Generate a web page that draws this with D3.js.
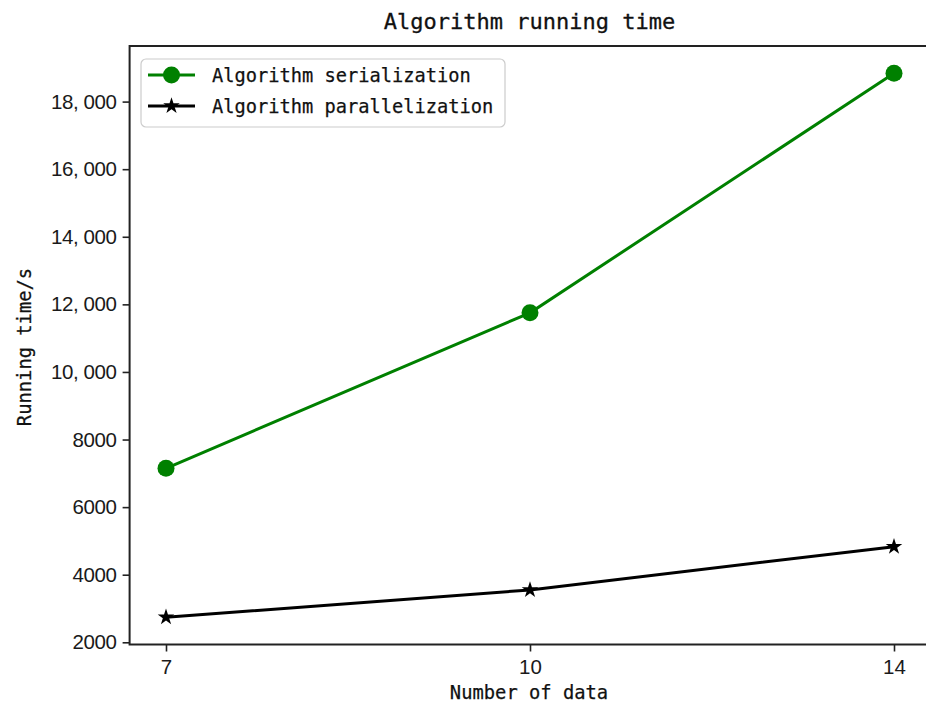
<!DOCTYPE html>
<html>
<head>
<meta charset="utf-8">
<script src="https://cdn.jsdelivr.net/npm/d3@7"></script>
<style>
  body { margin: 0; background: #fff; }
  svg { display: block; }
</style>
</head>
<body>
<svg id="chart" width="926" height="706"></svg>
<script>
const categories = ["7", "10", "14"];
const serialValues = [7150, 11750, 18840];
const parallelValues = [2740, 3550, 4830];
const yTicks = [2000, 4000, 6000, 8000, 10000, 12000, 14000, 16000, 18000];
const yTickLabels = ["2000", "4000", "6000", "8000", "10, 000", "12, 000", "14, 000", "16, 000", "18, 000"];
const seriesNames = ["Algorithm serialization", "Algorithm parallelization"];
const titleText = "Algorithm running time";
const xLabel = "Number of data";
const yLabel = "Running time/s";

(function () {
const svg = d3.select("#chart");
const pL = 129.6, pR = 930.4, pT = 46, pB = 644.5;
const mono = "'DejaVu Sans Mono', 'Liberation Mono', monospace";
const sans = "'Liberation Sans', Arial, sans-serif";

const x = d3.scalePoint().domain(categories).range([pL, pR]).padding(0.1);
const allVals = serialValues.concat(parallelValues);
const vmin = d3.min(allVals), vmax = d3.max(allVals), m = (vmax - vmin) * 0.05;
const y = d3.scaleLinear().domain([vmin - m, vmax + m]).range([pB, pT]);

// Axes
const yAxis = d3.axisLeft(y).tickValues(yTicks)
  .tickFormat((d, i) => yTickLabels[i]).tickSize(7).tickPadding(6);
const gy = svg.append("g").attr("transform", `translate(${pL},0)`).call(yAxis);
gy.select(".domain").remove();
gy.selectAll(".tick line").attr("stroke", "#222").attr("stroke-width", 1.6);
gy.selectAll(".tick text").attr("font-family", sans).attr("font-size", 20.5)
  .attr("fill", "#1a1a1a").attr("letter-spacing", "-0.4");

const xAxis = d3.axisBottom(x).tickSize(7).tickPadding(8);
const gx = svg.append("g").attr("transform", `translate(0,${pB})`).call(xAxis);
gx.select(".domain").remove();
gx.selectAll(".tick line").attr("stroke", "#222").attr("stroke-width", 1.6);
gx.selectAll(".tick text").attr("font-family", sans).attr("font-size", 20.5).attr("fill", "#1a1a1a");

// Spines
svg.append("rect").attr("x", pL).attr("y", pT)
  .attr("width", pR - pL).attr("height", pB - pT)
  .attr("fill", "none").attr("stroke", "#222").attr("stroke-width", 2);

// Lines
const line = d3.line().x((d, i) => x(categories[i])).y(d => y(d));
svg.append("path").datum(serialValues).attr("d", line)
  .attr("fill", "none").attr("stroke", "#008000").attr("stroke-width", 3);
svg.append("path").datum(parallelValues).attr("d", line)
  .attr("fill", "none").attr("stroke", "#000").attr("stroke-width", 3);

svg.append("g").selectAll("circle").data(serialValues).join("circle")
  .attr("cx", (d, i) => x(categories[i])).attr("cy", d => y(d))
  .attr("r", 8.5).attr("fill", "#008000");
const star = d3.symbol().type(d3.symbolStar).size(85);
svg.append("g").selectAll("path").data(parallelValues).join("path")
  .attr("d", star)
  .attr("transform", (d, i) => `translate(${x(categories[i])},${y(d)})`)
  .attr("fill", "#000");

// Title and labels
svg.append("text").attr("x", 529.5).attr("y", 29)
  .attr("text-anchor", "middle").attr("font-family", mono).attr("font-size", 22)
  .attr("fill", "#111").attr("stroke", "#111").attr("stroke-width", 0.3).text(titleText);
svg.append("text").attr("x", 529).attr("y", 699)
  .attr("text-anchor", "middle").attr("font-family", mono).attr("font-size", 18.8)
  .attr("fill", "#111").attr("stroke", "#111").attr("stroke-width", 0.25).text(xLabel);
svg.append("text").attr("transform", "translate(31,347) rotate(-90)")
  .attr("text-anchor", "middle").attr("font-family", mono).attr("font-size", 18.8)
  .attr("fill", "#111").attr("stroke", "#111").attr("stroke-width", 0.25).text(yLabel);

// Legend
const lg = svg.append("g");
lg.append("rect").attr("x", 141).attr("y", 59).attr("width", 364).attr("height", 68)
  .attr("rx", 5).attr("fill", "#fff").attr("fill-opacity", 0.8)
  .attr("stroke", "#ccc").attr("stroke-width", 1.2);
const colors = ["#008000", "#000"];
const rowsY = [75, 106];
seriesNames.forEach((name, i) => {
  lg.append("line").attr("x1", 148).attr("x2", 195).attr("y1", rowsY[i]).attr("y2", rowsY[i])
    .attr("stroke", colors[i]).attr("stroke-width", 3);
  if (i === 0) {
    lg.append("circle").attr("cx", 171.5).attr("cy", rowsY[i]).attr("r", 8.5).attr("fill", colors[i]);
  } else {
    lg.append("path").attr("d", star).attr("transform", `translate(171.5,${rowsY[i]})`).attr("fill", colors[i]);
  }
  lg.append("text").attr("x", 212).attr("y", rowsY[i] + 6.5)
    .attr("font-family", mono).attr("font-size", 18.7).attr("fill", "#111")
    .attr("stroke", "#111").attr("stroke-width", 0.25).text(name);
});
})();
</script>
</body>
</html>
